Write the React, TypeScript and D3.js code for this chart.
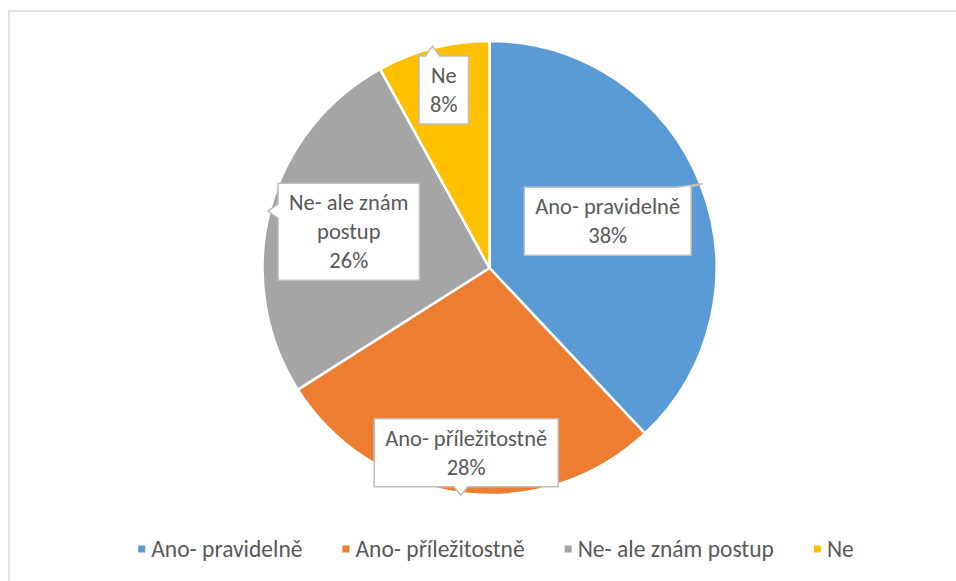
import React, { useEffect, useRef } from "react";
import * as d3 from "d3";

const categories = ["Ano- pravidelně", "Ano- příležitostně", "Ne- ale znám postup", "Ne"];
const values = [38, 28, 26, 8];
const colors = ["#5B9BD5", "#ED7D31", "#A5A5A5", "#FFC000"];
// data label text, wrapped like in the original
const labelLines = [["Ano- pravidelně"], ["Ano- příležitostně"], ["Ne- ale znám", "postup"], ["Ne"]];

function App() {
  const svgRef = useRef(null);
  const width = 956;
  const height = 581;

  useEffect(() => {
    const svg = d3.select(svgRef.current);
    svg.selectAll("*").remove();

    const font = "Carlito, Calibri, Lato, sans-serif";
    const textColor = "#595959";
    const cx = 489.5;
    const cy = 268;
    const radius = 227;
    // label distance from centre, as fraction of radius (manual placement in source)
    const labelPos = [0.56, 0.82, 0.64, 0.81];

    // chart area border
    svg
      .append("rect")
      .attr("x", 9)
      .attr("y", 11)
      .attr("width", width)
      .attr("height", height)
      .attr("fill", "white")
      .attr("stroke", "#d9d9d9")
      .attr("stroke-width", 1.5);

    const pie = d3.pie<number>().value((d) => d).sort(null);
    const arcs = pie(values);
    const arc = d3.arc<any>().innerRadius(0).outerRadius(radius);

    const g = svg.append("g").attr("transform", `translate(${cx},${cy})`);

    g.selectAll("path.slice")
      .data(arcs)
      .enter()
      .append("path")
      .attr("class", "slice")
      .attr("d", arc)
      .attr("fill", (d, i) => colors[i])
      .attr("stroke", "white")
      .attr("stroke-width", 2.5)
      .attr("stroke-linejoin", "round");

    const fmt = d3.format(".0%");
    const total = d3.sum(values);
    const lh = 29;
    const padX = 11;
    const padY = 5;

    arcs.forEach((d, i) => {
      const mid = (d.startAngle + d.endAngle) / 2;
      const lx = Math.sin(mid) * radius * labelPos[i];
      const ly = -Math.cos(mid) * radius * labelPos[i];
      const tip = [Math.sin(mid) * (radius + 2), -Math.cos(mid) * (radius + 2)];
      const lines = [...labelLines[i], fmt(d.data / total)];

      const lg = g.append("g");
      const box = lg.append("path");
      const txt = lg
        .append("text")
        .attr("font-family", font)
        .attr("font-size", 22.5)
        .attr("fill", textColor)
        .attr("text-anchor", "middle");
      const h = lines.length * lh + padY * 2;
      lines.forEach((t, j) => {
        txt
          .append("tspan")
          .attr("x", lx)
          .attr("y", ly - h / 2 + padY + lh * (j + 0.5))
          .attr("dominant-baseline", "central")
          .text(t);
      });
      const tw = (txt.node() as SVGTextElement).getBBox().width;
      const w = tw + padX * 2;
      const x0 = lx - w / 2;
      const x1 = lx + w / 2;
      const y0 = ly - h / 2;
      const y1 = ly + h / 2;
      const half = 7;
      const clampX = Math.max(x0 + half + 1, Math.min(x1 - half - 1, tip[0]));
      const clampY = Math.max(y0 + half + 1, Math.min(y1 - half - 1, tip[1]));
      let side = "left";
      if (tip[1] < y0) side = "top";
      else if (tip[1] > y1) side = "bottom";
      else if (tip[0] > x1) side = "right";

      const p = d3.path();
      p.moveTo(x0, y0);
      if (side === "top") {
        p.lineTo(clampX - half, y0);
        p.lineTo(tip[0], tip[1]);
        p.lineTo(clampX + half, y0);
      }
      p.lineTo(x1, y0);
      if (side === "right") {
        p.lineTo(x1, clampY - half);
        p.lineTo(tip[0], tip[1]);
        p.lineTo(x1, clampY + half);
      }
      p.lineTo(x1, y1);
      if (side === "bottom") {
        p.lineTo(clampX + half, y1);
        p.lineTo(tip[0], tip[1]);
        p.lineTo(clampX - half, y1);
      }
      p.lineTo(x0, y1);
      if (side === "left") {
        p.lineTo(x0, clampY + half);
        p.lineTo(tip[0], tip[1]);
        p.lineTo(x0, clampY - half);
      }
      p.closePath();
      box
        .attr("d", p.toString())
        .attr("fill", "white")
        .attr("stroke", "#bfbfbf")
        .attr("stroke-width", 1.5);
    });

    // legend
    const legend = svg.append("g");
    const items = legend
      .selectAll("g")
      .data(categories)
      .enter()
      .append("g");
    items
      .append("rect")
      .attr("width", 7)
      .attr("height", 7)
      .attr("y", -3.5)
      .attr("fill", (d, i) => colors[i]);
    items
      .append("text")
      .attr("x", 13)
      .attr("dominant-baseline", "central")
      .attr("font-family", font)
      .attr("font-size", 23.5)
      .attr("fill", textColor)
      .text((d) => d);
    let x = 0;
    items.each(function () {
      const it = d3.select(this);
      it.attr("transform", `translate(${x},0)`);
      const tw = (it.select("text").node() as SVGTextElement).getComputedTextLength();
      x += 13 + tw + 40;
    });
    const legendW = x - 40;
    legend.attr("transform", `translate(${496 - legendW / 2},549)`);
  }, []);

  return (
    <svg
      ref={svgRef}
      width={width}
      height={height}
      style={{ position: "absolute", left: 0, top: 0 }}
    ></svg>
  );
}

export default App;
